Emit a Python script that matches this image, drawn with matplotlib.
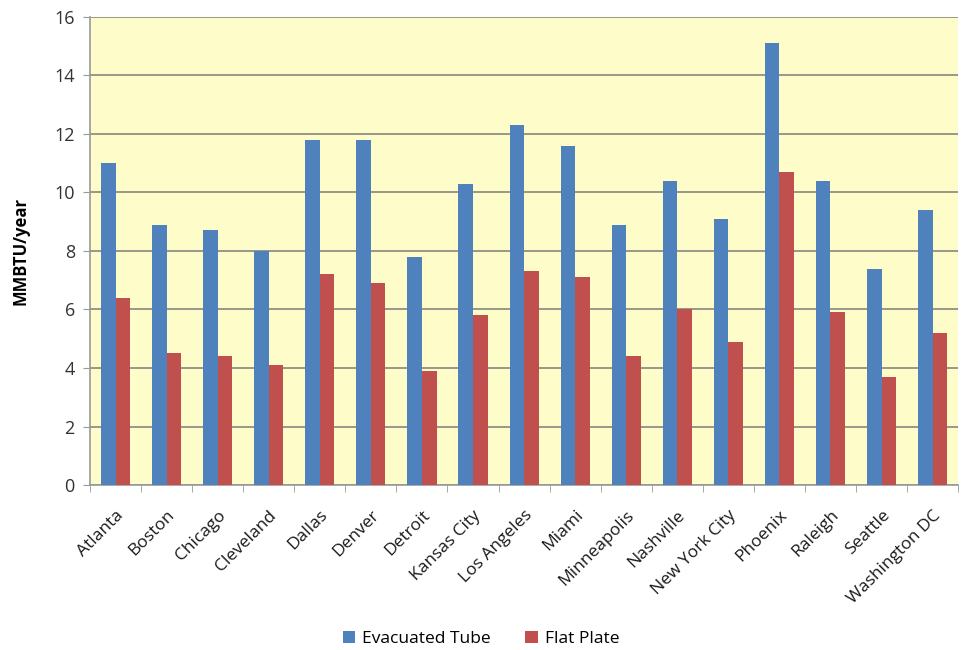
import matplotlib
matplotlib.use("Agg")
import matplotlib.pyplot as plt
import numpy as np

cities = ["Atlanta", "Boston", "Chicago", "Cleveland", "Dallas", "Denver", "Detroit",
          "Kansas City", "Los Angeles", "Miami", "Minneapolis", "Nashville",
          "New York City", "Phoenix", "Raleigh", "Seattle", "Washington DC"]
evacuated_tube = [11.0, 8.9, 8.7, 8.0, 11.8, 11.8, 7.8, 10.3, 12.3, 11.6, 8.9, 10.4, 9.1, 15.1, 10.4, 7.4, 9.4]
flat_plate = [6.4, 4.5, 4.4, 4.1, 7.2, 6.9, 3.9, 5.8, 7.3, 7.1, 4.4, 6.0, 4.9, 10.7, 5.9, 3.7, 5.2]
yticks = [0, 2, 4, 6, 8, 10, 12, 14, 16]

plt.rcParams['font.family'] = ['Open Sans', 'DejaVu Sans']

fig = plt.figure(figsize=(9.62, 6.5), dpi=100)
ax = fig.add_axes([0.0936, 0.2538, 0.9024, 0.7202])
ax.set_facecolor("#FEFDC9")

x = np.arange(len(cities))
w = 0.285
ax.bar(x - w/2, evacuated_tube, w, color="#4F81BD", label="Evacuated Tube", zorder=3)
ax.bar(x + w/2, flat_plate, w, color="#C0504D", label="Flat Plate", zorder=3)

ax.set_xlim(-0.5, len(cities) - 0.5)
ax.set_ylim(0, 16)
ax.set_yticks(yticks)
ax.yaxis.grid(True, color="#8F8F86", linewidth=1.3, zorder=1)
ax.set_axisbelow(True)

ax.set_xticks(x)
ax.set_xticklabels(cities, rotation=45, ha="right", rotation_mode="anchor", fontsize=12.5, color="#1a1a1a")
ax.tick_params(axis="x", length=0, pad=16)
ax.set_xticks(np.arange(-0.5, len(cities)), minor=True)
ax.tick_params(axis="x", which="minor", length=5, color="#999999")
ax.tick_params(axis="y", length=5, color="#999999", labelsize=13, labelcolor="#333333", pad=6)

for s in ["top", "right"]:
    ax.spines[s].set_visible(False)
ax.spines["left"].set_color("#999999")
ax.spines["bottom"].set_color("#999999")
ax.spines["left"].set_linewidth(1.2)
ax.spines["bottom"].set_linewidth(1.2)

ax.set_ylabel("MMBTU/year", fontsize=12, fontweight="bold", labelpad=18)

fig.legend(loc="lower center", bbox_to_anchor=(0.5, -0.02), ncol=2, frameon=False,
           fontsize=12.5, handlelength=0.7, handleheight=0.7, columnspacing=2.0, handletextpad=0.4)

fig.savefig("out.png", dpi=100)
